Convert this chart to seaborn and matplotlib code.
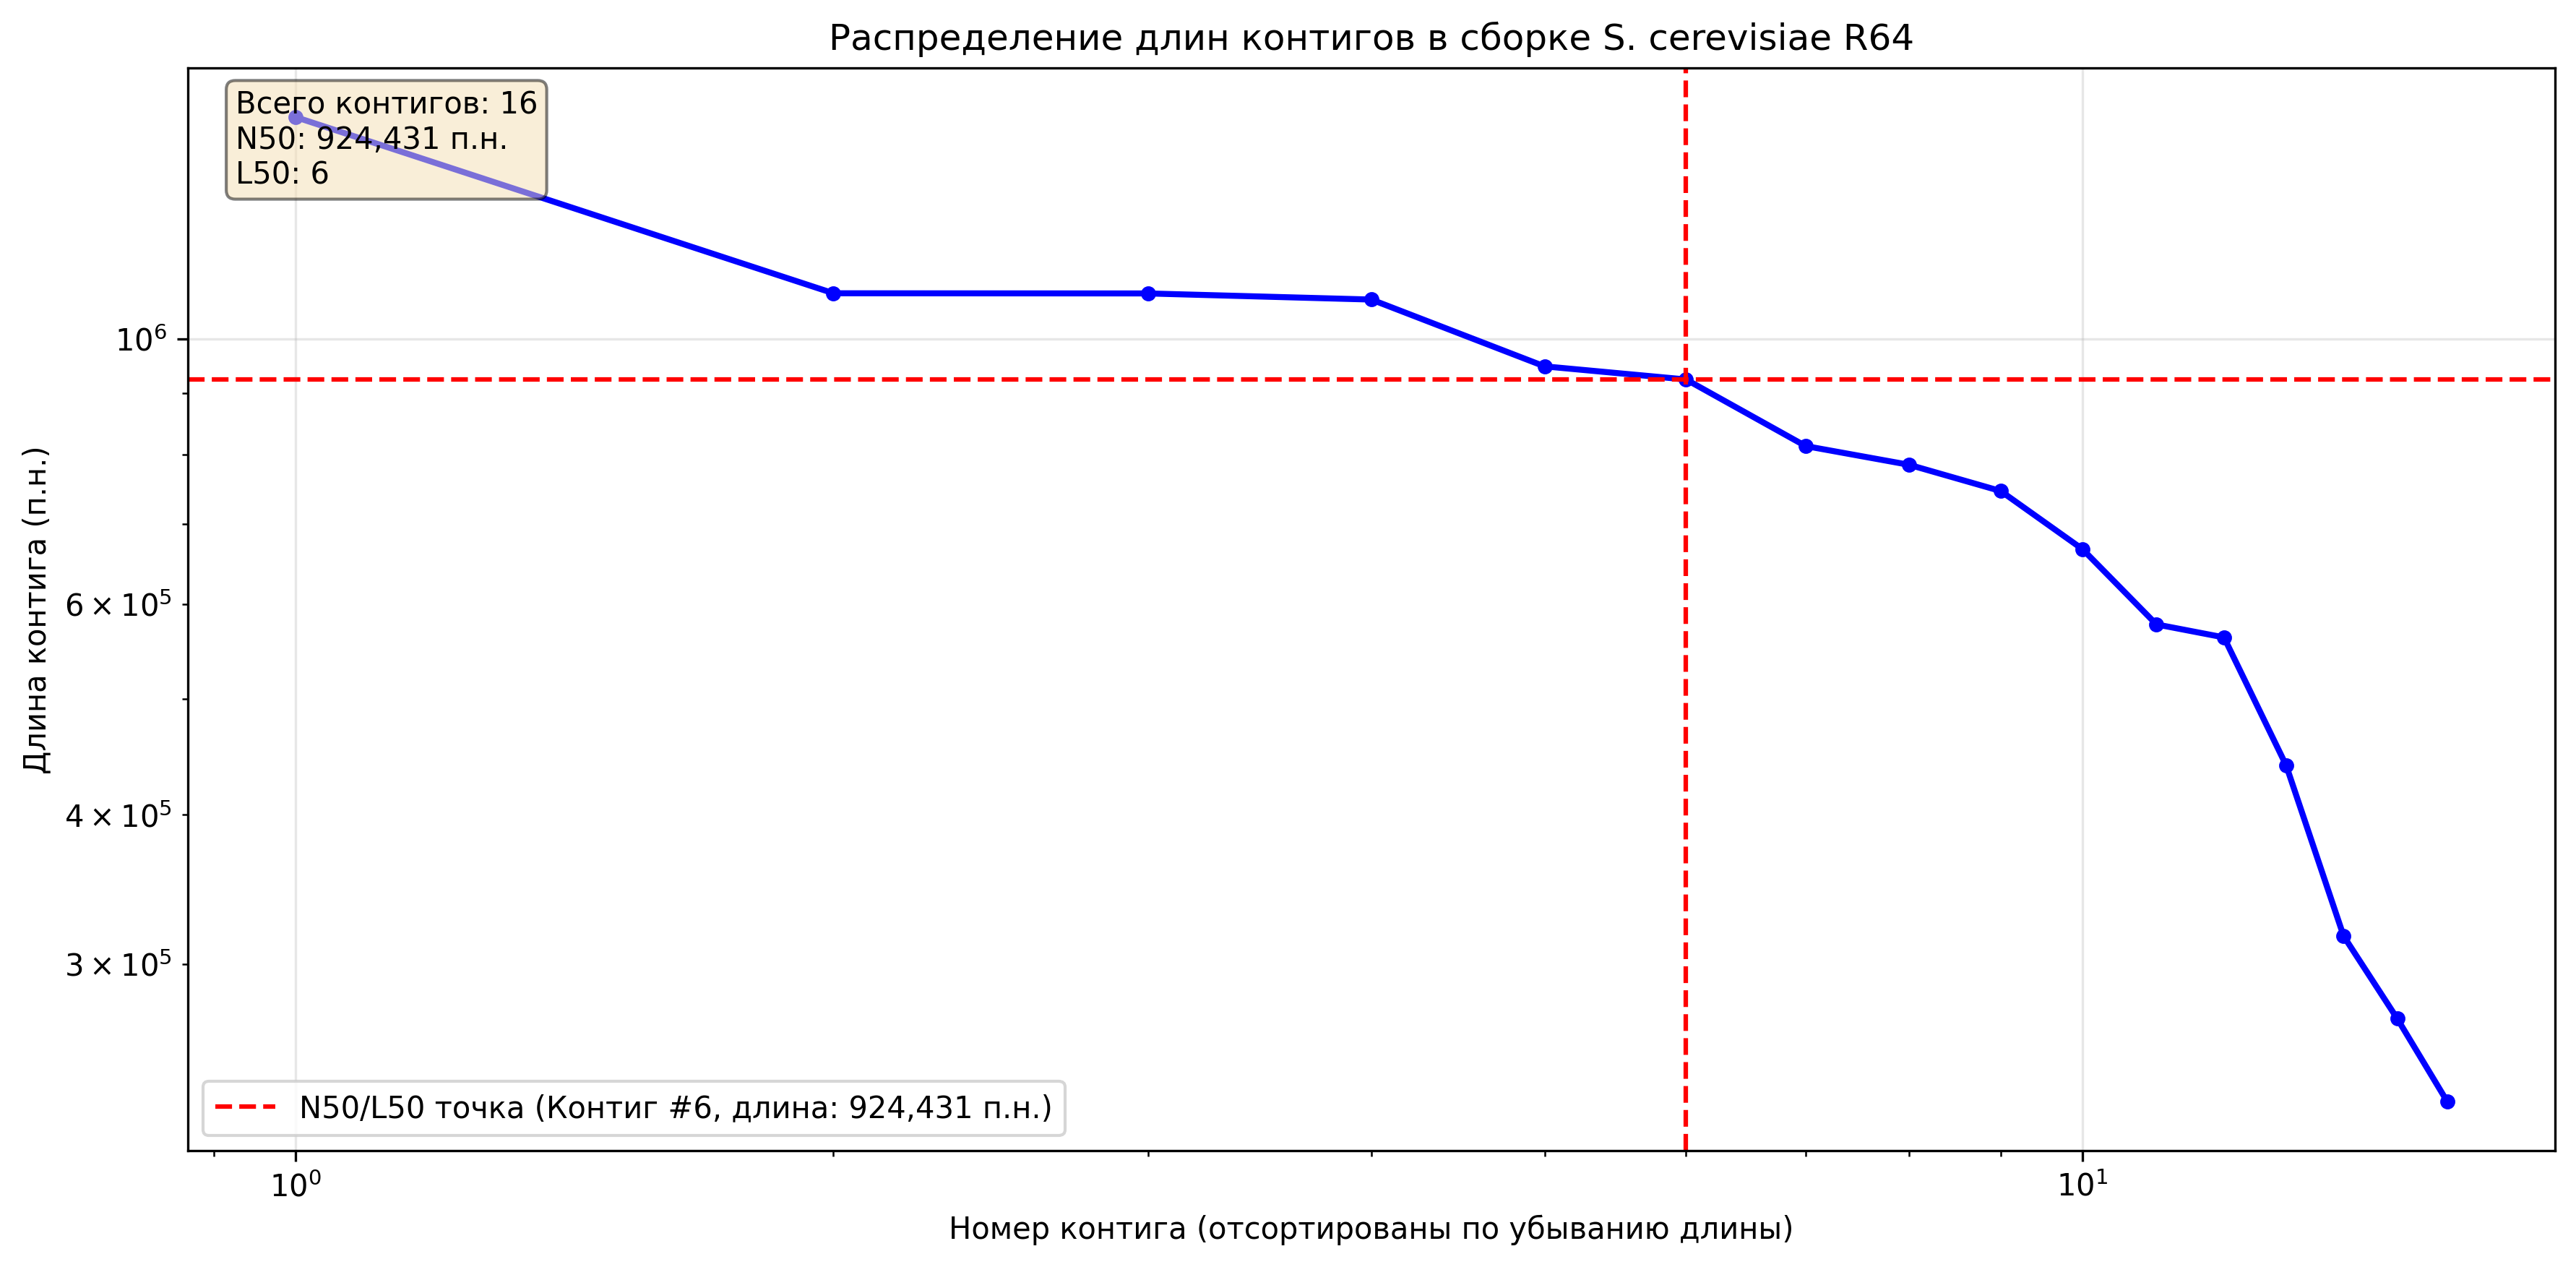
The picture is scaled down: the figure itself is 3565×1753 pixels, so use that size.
import numpy as np
import pandas as pd
import matplotlib
matplotlib.use("Agg")
import matplotlib.pyplot as plt
import seaborn as sns

# contig lengths of S. cerevisiae R64 (sorted by length, desc)
contig_lengths = [1531933, 1091291, 1090940, 1078177, 948066, 924431,
                  813184, 784333, 745751, 666816, 576874, 562643,
                  439888, 316620, 270161, 230218]
contig_ranks = list(range(1, len(contig_lengths) + 1))
n50 = 924431
l50 = 6

df = pd.DataFrame({"rank": contig_ranks, "length": contig_lengths})

fig, ax = plt.subplots(figsize=(12, 6))

sns.lineplot(data=df, x="rank", y="length", ax=ax, color="blue",
             marker="o", markersize=4, markeredgecolor="blue",
             markeredgewidth=1, linewidth=2, errorbar=None)

ax.axvline(x=l50, color="red", linestyle="--", linewidth=1.5,
           label=f"N50/L50 точка (Контиг #{l50}, длина: {n50:,} п.н.)")
ax.axhline(y=n50, color="red", linestyle="--", linewidth=1.5)

ax.set_xscale("log")
ax.set_yscale("log")
ax.set_xlabel("Номер контига (отсортированы по убыванию длины)")
ax.set_ylabel("Длина контига (п.н.)")
ax.set_title("Распределение длин контигов в сборке S. cerevisiae R64")
ax.grid(True, alpha=0.3)
ax.legend(loc="lower left")

stats = f"Всего контигов: {len(contig_lengths)}\nN50: {n50:,} п.н.\nL50: {l50}"
ax.text(0.02, 0.98, stats, transform=ax.transAxes, va="top",
        bbox=dict(boxstyle="round", facecolor="wheat", alpha=0.5))

plt.tight_layout()
plt.savefig("out.png", dpi=300, bbox_inches="tight")
